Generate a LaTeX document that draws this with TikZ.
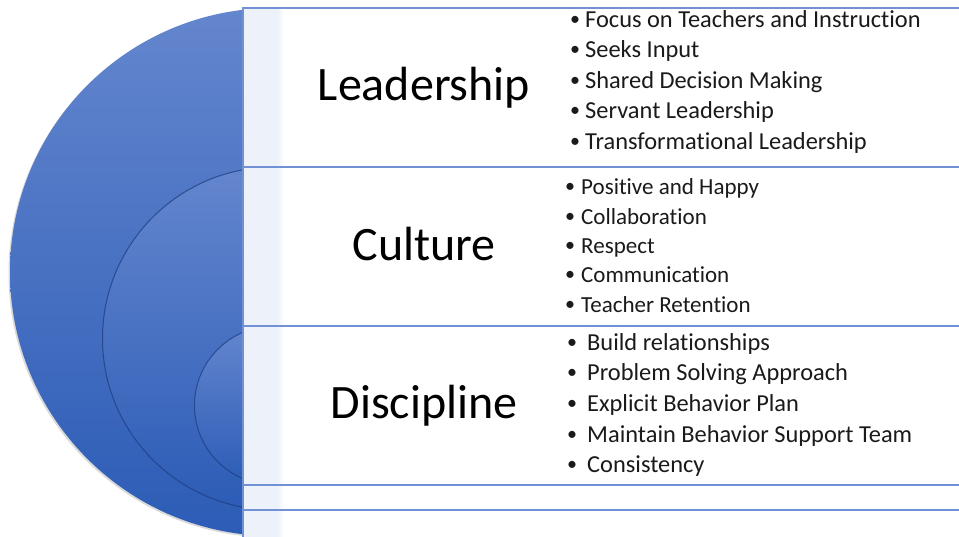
\documentclass[tikz,border=0pt]{standalone}
\usepackage{fontspec}
\setmainfont{Carlito}[Ligatures=NoCommon]

\definecolor{ringtop}{RGB}{100,134,206}
\definecolor{ringbot}{RGB}{44,92,182}
\definecolor{ringedge}{RGB}{30,60,128}
\definecolor{bandline}{RGB}{112,146,212}
\definecolor{bandstrip}{RGB}{236,241,250}
\definecolor{itemtext}{RGB}{26,26,26}

\newcommand{\dotmark}{\makebox[0pt]{\raisebox{2pt}{\fontsize{20}{20}\selectfont•}}}

\tikzset{
    ring/.style={top color=ringtop, bottom color=ringbot},
    band/.style={draw=bandline, line width=1.2pt},
    cat/.style={anchor=base, inner sep=0pt, font=\fontsize{48}{52}\selectfont},
    item/.style={anchor=base west, inner sep=0pt, text=itemtext,
        font=\fontsize{24.4}{28}\selectfont,
        execute at begin node={\dotmark\hspace{#1}}}
}

\begin{document}
\begin{tikzpicture}[x=1pt,y=-1pt]
            \useasboundingbox (0,0) rectangle (959,536);

            % nested rings, largest first
            \fill [black, opacity=0.15] (272.5,273.5) circle (264pt);
            \shade [ring] (274,272) circle (264pt);
            \shade [ring, draw=ringedge, draw opacity=0.75, line width=1pt] (274,338.5) circle (171.5pt);
            \shade [ring, draw=ringedge, draw opacity=0.75, line width=1pt] (274,405.5) circle (79.5pt);

            % bands, each one over the last
            \foreach \t/\b in {8/545,167/510,326/485}
                {\fill [white] (243,\t) rectangle (970,\b);
                \fill [bandstrip] (243,\t) rectangle (277,\b);
                \shade [left color=bandstrip, right color=white] (277,\t) rectangle (284,\b);
                \draw [band] (243,\t) rectangle (970,\b);}

            \node [cat] (lead) at (424,100) {Leadership};
            \node [cat] (cult) at (424,260) {Culture};
            \node [cat] (disc) at (424,418) {Discipline};

            \foreach \n/\y/\t in {1/27/Focus on Teachers and Instruction,
                    2/57.5/Seeks Input,
                    3/88/Shared Decision Making,
                    4/118.5/Servant Leadership,
                    5/149/Transformational Leadership}
                \node [item=10pt] (lead\n) at (575,\y) {\t};

            \foreach \n/\y/\t in {1/194/Positive and Happy,
                    2/224/Collaboration,
                    3/253/Respect,
                    4/282.5/Communication,
                    5/312/Teacher Retention}
                \node [item=11pt, font=\fontsize{23}{27}\selectfont] (cult\n) at (570,\y) {\t};

            \foreach \n/\y/\t in {1/350/Build relationships,
                    2/380.5/Problem Solving Approach,
                    3/411/Explicit Behavior Plan,
                    4/442/Maintain Behavior Support Team,
                    5/472.5/Consistency}
                \node [item=15pt] (disc\n) at (572,\y) {\t};
        \end{tikzpicture}
\end{document}
